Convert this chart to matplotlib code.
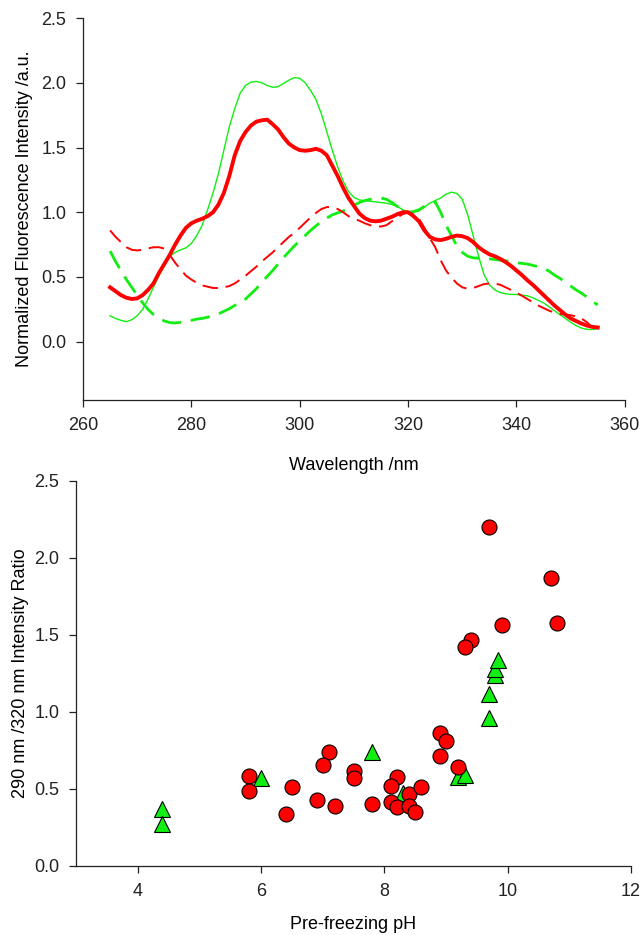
import numpy as np
import matplotlib
matplotlib.use('Agg')
import matplotlib.pyplot as plt
from matplotlib.ticker import FormatStrFormatter

plt.rcParams['font.family'] = ['Liberation Sans', 'DejaVu Sans']
plt.rcParams['font.size'] = 13

# spectra, read every 1 nm from 265 to 355
wavelength = list(range(265, 356))

red_solid = [
    0.42, 0.39, 0.36, 0.34, 0.33, 0.335, 0.36, 0.40, 0.45, 0.53,
    0.60, 0.67, 0.75, 0.82, 0.88, 0.915, 0.935, 0.95, 0.97, 1.00,
    1.06, 1.15, 1.28, 1.44, 1.55, 1.62, 1.67, 1.70, 1.71, 1.715,
    1.68, 1.64, 1.58, 1.53, 1.50, 1.48, 1.475, 1.48, 1.49, 1.475,
    1.44, 1.36, 1.28, 1.19, 1.11, 1.05, 0.99, 0.955, 0.935, 0.93,
    0.935, 0.95, 0.965, 0.985, 1.0, 1.0, 0.97, 0.93, 0.86, 0.81,
    0.79, 0.785, 0.795, 0.81, 0.82, 0.815, 0.80, 0.77, 0.73, 0.70,
    0.675, 0.66, 0.64, 0.615, 0.585, 0.55, 0.515, 0.475, 0.44, 0.40,
    0.36, 0.32, 0.28, 0.245, 0.21, 0.18, 0.16, 0.14, 0.125, 0.115,
    0.11,
]
red_dashed = [
    0.86, 0.81, 0.77, 0.73, 0.71, 0.705, 0.71, 0.72, 0.73, 0.73,
    0.72, 0.67, 0.61, 0.56, 0.51, 0.48, 0.455, 0.435, 0.425, 0.415,
    0.415, 0.42, 0.43, 0.45, 0.48, 0.51, 0.545, 0.58, 0.62, 0.655,
    0.69, 0.73, 0.77, 0.81, 0.84, 0.88, 0.92, 0.96, 0.995, 1.025,
    1.04, 1.04, 1.025, 1.0, 0.97, 0.95, 0.935, 0.915, 0.90, 0.89,
    0.89, 0.90, 0.93, 0.96, 0.985, 1.0, 0.985, 0.95, 0.88, 0.80,
    0.73, 0.63, 0.55, 0.495, 0.45, 0.42, 0.41, 0.415, 0.43, 0.445,
    0.45, 0.45, 0.44, 0.42, 0.40, 0.38, 0.355, 0.33, 0.305, 0.28,
    0.26, 0.24, 0.225, 0.215, 0.21, 0.205, 0.195, 0.18, 0.15, 0.11,
    0.08,
]
green_solid = [
    0.20, 0.18, 0.165, 0.155, 0.17, 0.20, 0.25, 0.33, 0.42, 0.51,
    0.59, 0.66, 0.69, 0.71, 0.725, 0.76, 0.82, 0.90, 1.02, 1.15,
    1.30, 1.48, 1.66, 1.80, 1.92, 1.98, 2.005, 2.01, 2.0, 1.98,
    1.965, 1.97, 1.995, 2.02, 2.04, 2.035, 2.0, 1.94, 1.87, 1.76,
    1.62, 1.48, 1.35, 1.24, 1.16, 1.115, 1.095, 1.09, 1.085, 1.08,
    1.075, 1.07, 1.06, 1.045, 1.02, 1.0, 1.0, 1.01, 1.04, 1.07,
    1.09, 1.11, 1.14, 1.155, 1.145, 1.10, 0.98, 0.82, 0.66, 0.52,
    0.44, 0.40, 0.38, 0.37, 0.365, 0.365, 0.36, 0.355, 0.34, 0.32,
    0.30, 0.27, 0.24, 0.21, 0.18, 0.15, 0.125, 0.105, 0.095, 0.095,
    0.10,
]
green_dashed = [
    0.70, 0.62, 0.55, 0.48, 0.42, 0.36, 0.30, 0.25, 0.21, 0.185,
    0.16, 0.148, 0.145, 0.15, 0.16, 0.165, 0.175, 0.18, 0.19, 0.20,
    0.215, 0.235, 0.255, 0.28, 0.30, 0.33, 0.37, 0.41, 0.46, 0.505,
    0.55, 0.60, 0.65, 0.695, 0.74, 0.78, 0.82, 0.86, 0.895, 0.93,
    0.955, 0.98, 0.995, 1.01, 1.03, 1.055, 1.075, 1.09, 1.10, 1.105,
    1.11, 1.10, 1.075, 1.045, 1.02, 1.0, 1.005, 1.02, 1.045, 1.07,
    1.08, 1.00, 0.90, 0.82, 0.74, 0.69, 0.66, 0.648, 0.645, 0.642,
    0.64, 0.635, 0.63, 0.625, 0.62, 0.61, 0.605, 0.60, 0.59, 0.58,
    0.57, 0.545, 0.515, 0.49, 0.46, 0.43, 0.40, 0.375, 0.345, 0.31,
    0.285,
]

# ratio vs pH
ph_circle = [9.7, 10.7, 10.8, 9.9, 9.4, 9.3, 8.9, 9.0, 8.9, 9.2,
             7.1, 7.0, 7.5, 7.5, 5.8, 5.8, 6.5, 6.4, 6.9, 7.2,
             7.8, 8.2, 8.1, 8.1, 8.2, 8.4, 8.4, 8.5, 8.6]
ratio_circle = [2.20, 1.87, 1.575, 1.565, 1.465, 1.42, 0.865, 0.813, 0.714, 0.642,
                0.742, 0.653, 0.619, 0.569, 0.584, 0.489, 0.511, 0.337, 0.426, 0.389,
                0.400, 0.575, 0.519, 0.413, 0.383, 0.470, 0.392, 0.348, 0.510]
ph_triangle = [4.4, 4.4, 6.0, 7.8, 8.3, 9.2, 9.3, 9.7, 9.7, 9.8, 9.8, 9.85]
ratio_triangle = [0.370, 0.270, 0.571, 0.742, 0.475, 0.578, 0.588, 0.963, 1.114, 1.239, 1.280, 1.336]

RED = '#ff0000'
GREEN = '#11ee11'

fig = plt.figure(figsize=(6.42, 9.35), dpi=100)
ax1 = fig.add_axes([0.1293, 0.5722, 0.844, 0.4085])
ax2 = fig.add_axes([0.1184, 0.0738, 0.8645, 0.4118])

ax1.plot(wavelength, green_solid, color=GREEN, lw=1.0)
ax1.plot(wavelength, green_dashed, color=GREEN, lw=2.0, dashes=(7, 3.5))
ax1.plot(wavelength, red_dashed, color=RED, lw=1.4, dashes=(8, 4))
ax1.plot(wavelength, red_solid, color=RED, lw=2.8)
ax1.set_xlim(260, 360)
ax1.set_ylim(-0.45, 2.5)
ax1.set_xticks([260, 280, 300, 320, 340, 360])
ax1.set_yticks([0.0, 0.5, 1.0, 1.5, 2.0, 2.5])
ax1.yaxis.set_major_formatter(FormatStrFormatter('%.1f'))
ax1.set_xlabel('Wavelength /nm', labelpad=17)
ax1.set_ylabel('Normalized Fluorescence Intensity /a.u.', labelpad=6)

ax2.plot(ph_triangle, ratio_triangle, ls='none', marker='^', ms=11,
         mfc=GREEN, mec='black', mew=0.8)
ax2.plot(ph_circle, ratio_circle, ls='none', marker='o', ms=10.8,
         mfc=RED, mec='black', mew=0.8)
ax2.set_xlim(3, 12)
ax2.set_ylim(0, 2.5)
ax2.set_xticks([4, 6, 8, 10, 12])
ax2.set_yticks([0.0, 0.5, 1.0, 1.5, 2.0, 2.5])
ax2.yaxis.set_major_formatter(FormatStrFormatter('%.1f'))
ax2.set_xlabel('Pre-freezing pH', labelpad=12)
ax2.set_ylabel('290 nm /320 nm Intensity Ratio', labelpad=4)

for ax in (ax1, ax2):
    ax.spines['top'].set_visible(False)
    ax.spines['right'].set_visible(False)
    for s in ('left', 'bottom'):
        ax.spines[s].set_linewidth(0.9)
        ax.spines[s].set_color('#222222')
    ax.tick_params(direction='out', length=5, width=0.9, colors='#222222',
                   labelsize=13, pad=7)

fig.savefig('out.png', dpi=100)
